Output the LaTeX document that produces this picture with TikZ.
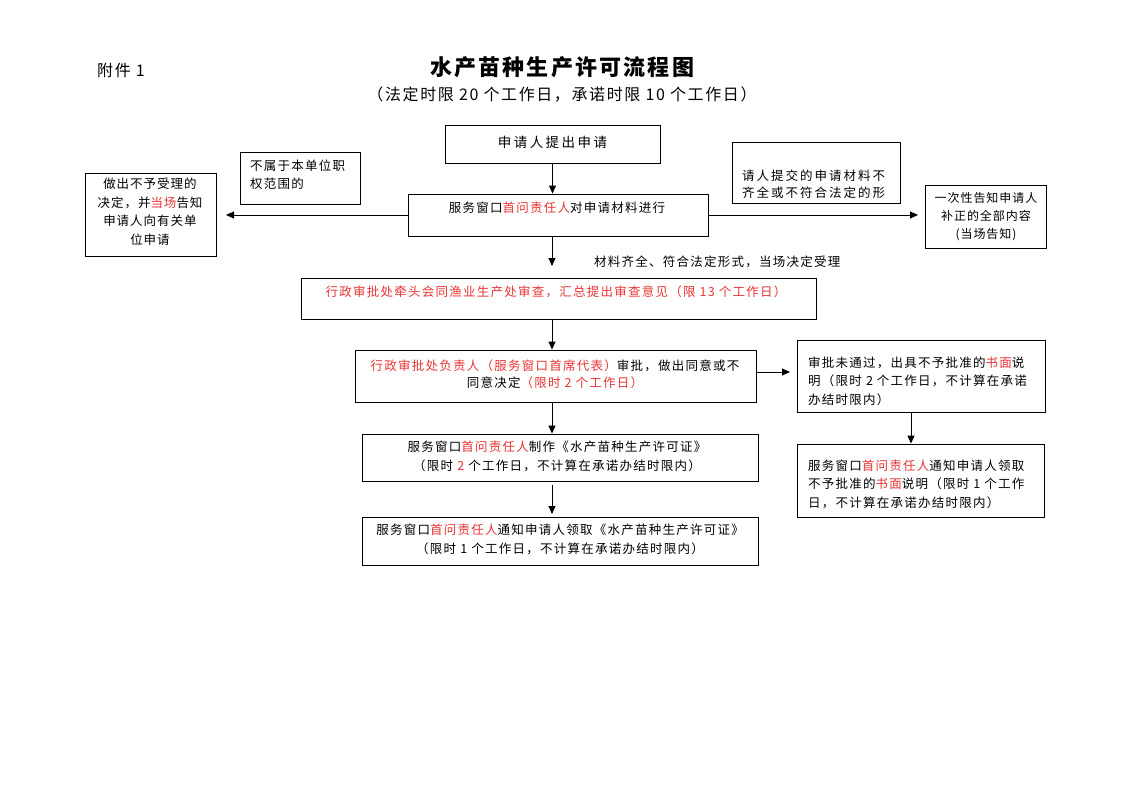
\documentclass[tikz,border=0pt]{standalone}
\usepackage{fontspec}
\setmainfont{Noto Sans CJK SC}[LetterSpace=10]
\usetikzlibrary{arrows.meta}
\definecolor{rd}{RGB}{232,52,52}
\newcommand\rd[1]{\textcolor{rd}{#1}}
\begin{document}
\begin{tikzpicture}[x=1pt,y=-1pt,
  box/.style={draw, line width=0.9pt, inner sep=0pt},
  txt/.style={inner sep=0pt, font=\fontsize{12.5}{18.5}\selectfont},
  arr/.style={line width=0.9pt, -{Triangle[length=8pt,width=7pt]}}]
\path[use as bounding box, fill=white] (0,0) rectangle (1122,793);
% headings
\node[inner sep=0pt, anchor=west, font=\fontsize{16}{18}\selectfont] (annex) at (97,70) {附件 1};
\node[inner sep=0pt, font=\fontsize{22}{24}\selectfont\bfseries] (title) at (562,67) {水产苗种生产许可流程图};
\node[inner sep=0pt, font=\fontsize{16}{18}\selectfont] (subtitle) at (562,95) {（法定时限 20 个工作日，承诺时限 10 个工作日）};
% boxes
\node[box, minimum width=215pt, minimum height=38pt] (apply) at (552.5,144) {};
\node[box, minimum width=300pt, minimum height=42pt] (check) at (558,215) {};
\node[box, minimum width=120pt, minimum height=52pt] (outside) at (300,178) {};
\node[box, minimum width=131pt, minimum height=83pt] (refuse) at (150.5,214.5) {};
\node[box, minimum width=168pt, minimum height=61pt] (incomplete) at (816,172.5) {};
\node[box, minimum width=121pt, minimum height=63pt] (inform) at (985.5,216.5) {};
\node[box, minimum width=515pt, minimum height=41pt] (review) at (558.5,298.5) {};
\node[box, minimum width=401pt, minimum height=52pt] (decide) at (555.5,376) {};
\node[box, minimum width=248pt, minimum height=72pt] (reject) at (921,376) {};
\node[box, minimum width=247pt, minimum height=73pt] (rnotify) at (920.5,480.5) {};
\node[box, minimum width=396pt, minimum height=47pt] (make) at (560,457.5) {};
\node[box, minimum width=396pt, minimum height=48pt] (notify) at (560,541) {};
% texts
\node[txt, font=\fontsize{13.5}{18}\selectfont\addfontfeatures{LetterSpace=18}] (tapply) at (552.5,142) {申请人提出申请};
\node[txt] (tcheck) at (557,208) {服务窗口\rd{首问责任人}对申请材料进行};
\node[txt, anchor=west, align=left] (toutside) at (250,174.5) {不属于本单位职\\权范围的};
\node[txt, align=center, font=\fontsize{12.5}{18.5}\selectfont\addfontfeatures{LetterSpace=8}] (trefuse) at (150,211.5) {做出不予受理的\\决定，并\rd{当场}告知\\申请人向有关单\\位申请};
\node[txt, anchor=west, align=left, font=\fontsize{12.5}{17}\selectfont\addfontfeatures{LetterSpace=16}] (tincomplete) at (742,184.5) {请人提交的申请材料不\\齐全或不符合法定的形};
\node[txt, align=center, font=\fontsize{12}{18}\selectfont\addfontfeatures{LetterSpace=8}] (tinform) at (986,217) {一次性告知申请人\\补正的全部内容\\(当场告知)};
\node[txt, anchor=west] (accept) at (594,262) {材料齐全、符合法定形式，当场决定受理};
\node[txt, text=rd] (treview) at (556,292) {行政审批处牵头会同渔业生产处审查，汇总提出审查意见（限 13 个工作日）};
\node[txt, align=center, font=\fontsize{12.5}{17}\selectfont] (tdecide) at (555,374.5) {\rd{行政审批处负责人（服务窗口首席代表）}审批，做出同意或不\\同意决定\rd{（限时 2 个工作日）}};
\node[txt, anchor=west, align=left] (treject) at (808,381) {审批未通过，出具不予批准的\rd{书面}说\\明（限时 2 个工作日，不计算在承诺\\办结时限内）};
\node[txt, anchor=west, align=left] (trnotify) at (808,484) {服务窗口\rd{首问责任人}通知申请人领取\\不予批准的\rd{书面}说明（限时 1 个工作\\日，不计算在承诺办结时限内）};
\node[txt, align=center] (tmake) at (557,456.5) {服务窗口\rd{首问责任人}制作《水产苗种生产许可证》\\（限时 \rd{2} 个工作日，不计算在承诺办结时限内）};
\node[txt, align=center] (tnotify) at (560,539.5) {服务窗口\rd{首问责任人}通知申请人领取《水产苗种生产许可证》\\（限时 1 个工作日，不计算在承诺办结时限内）};
% connectors
\coordinate (c1) at (552,266);
\coordinate (cl) at (226,215);
\coordinate (cr) at (918,215);
\coordinate (cd) at (790,372);
\coordinate (m1) at (552,485);
\coordinate (m2) at (552,514);
\draw[arr] (apply.south) -- (apply.south |- check.north);
\draw[arr] (check.south -| c1) -- (c1);
\draw[arr] (check.west) -- (cl);
\draw[arr] (check.east) -- (cr);
\draw[arr] (review.south -| c1) -- (c1 |- decide.north);
\draw[arr] (decide.east |- cd) -- (cd);
\draw[arr] ([xshift=-10pt]reject.south) -- ([xshift=-9.5pt]rnotify.north);
\draw[arr] (decide.south -| c1) -- (c1 |- make.north);
\draw[arr] (m1) -- (m2);
\end{tikzpicture}
\end{document}
